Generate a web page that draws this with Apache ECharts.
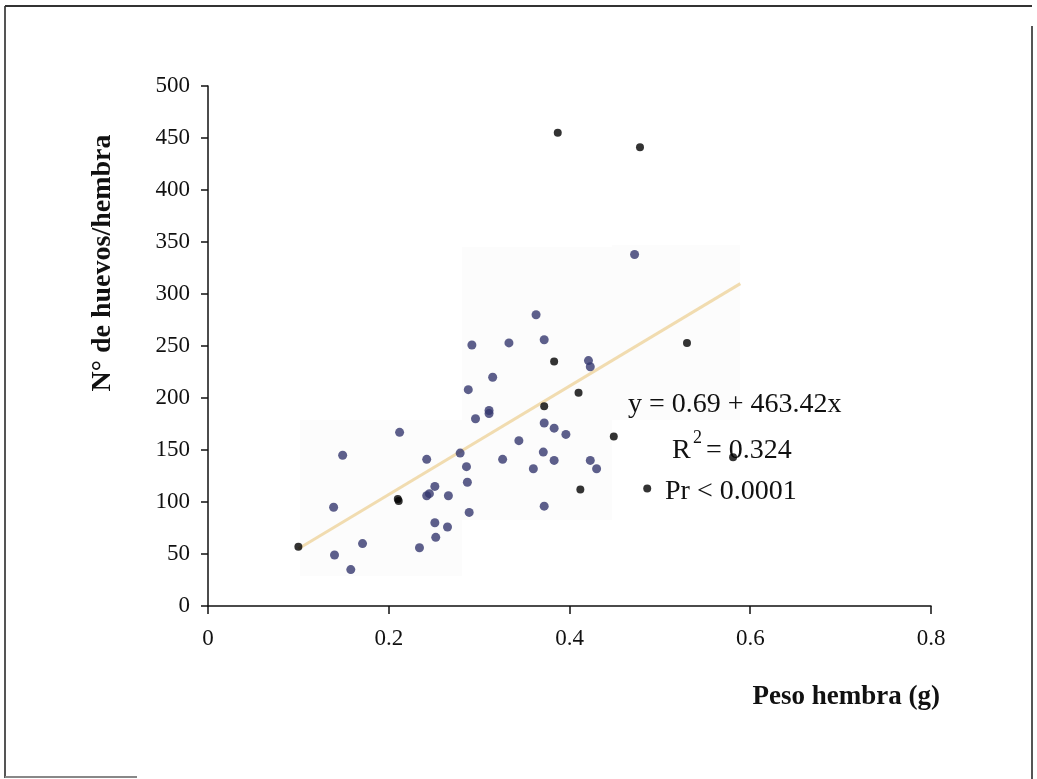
<!DOCTYPE html>
<html>
<head>
<meta charset="utf-8">
<script src="https://cdn.jsdelivr.net/npm/echarts@6/dist/echarts.min.js"></script>
<style>
  html, body { margin: 0; padding: 0; background: #fff; }
  #chart { width: 1037px; height: 779px; }
</style>
</head>
<body>
<div id="chart"></div>
<script>
// peso hembra (g) vs n° de huevos por hembra
const pesoAzul = [0.140, 0.139, 0.149, 0.158, 0.171, 0.212, 0.234, 0.242, 0.242, 0.245,
    0.251, 0.251, 0.252, 0.266, 0.265, 0.279, 0.286, 0.287, 0.289, 0.288,
    0.292, 0.296, 0.311, 0.311, 0.315, 0.326, 0.333, 0.344, 0.360, 0.363,
    0.371, 0.372, 0.372, 0.372, 0.383, 0.383, 0.396, 0.421, 0.423, 0.423,
    0.430, 0.472];
const huevosAzul = [49, 95, 145, 35, 60, 167, 56, 141, 106, 108,
    115, 80, 66, 106, 76, 147, 134, 119, 90, 208,
    251, 180, 188, 185, 220, 141, 253, 159, 132, 280,
    148, 176, 256, 96, 171, 140, 165, 236, 230, 140,
    132, 338];

const pesoNegro = [0.100, 0.210, 0.211, 0.372, 0.383, 0.387, 0.410, 0.412, 0.449, 0.478, 0.486, 0.530, 0.581];
const huevosNegro = [57, 103, 101, 192, 235, 455, 205, 112, 163, 441, 113, 253, 143];

// recta de regresion tal como aparece dibujada
const rectaX = [0.10, 0.589];
const rectaY = [55, 310];

const xTicks = ['0', '0.2', '0.4', '0.6', '0.8'];

const toPairs = (xs, ys) => xs.map((x, i) => [x, ys[i]]);

const serif = '"Liberation Serif", "DejaVu Serif", serif';

const chart = echarts.init(document.getElementById('chart'));

const option = {
    backgroundColor: '#fff',
    animation: false,
    grid: { left: 208, right: 106, top: 86, bottom: 173 },
    xAxis: {
        type: 'value',
        min: 0,
        max: 0.8,
        interval: 0.2,
        axisLine: { lineStyle: { color: '#111', width: 1.5 } },
        axisTick: { show: true, length: 8, lineStyle: { color: '#111', width: 1.5 } },
        axisLabel: {
            color: '#111', fontFamily: serif, fontSize: 23, margin: 21,
            formatter: (v) => xTicks[Math.round(v / 0.2)]
        },
        splitLine: { show: false }
    },
    yAxis: {
        type: 'value',
        min: 0,
        max: 500,
        interval: 50,
        axisLine: { show: true, lineStyle: { color: '#111', width: 1.5 } },
        axisTick: { show: true, length: 7, lineStyle: { color: '#111', width: 1.5 } },
        axisLabel: { color: '#111', fontFamily: serif, fontSize: 23, margin: 18 },
        splitLine: { show: false }
    },
    series: [
        {
            type: 'line',
            data: toPairs(rectaX, rectaY),
            symbol: 'none',
            lineStyle: { color: '#f1dcb0', width: 3 },
            z: 1
        },
        {
            type: 'scatter',
            data: toPairs(pesoAzul, huevosAzul),
            symbolSize: 9,
            itemStyle: { color: '#34376e' },
            z: 3
        },
        {
            type: 'scatter',
            data: toPairs(pesoNegro, huevosNegro),
            symbolSize: 8,
            itemStyle: { color: '#000' },
            z: 4
        }
    ],
    graphic: [
        // marco
        { type: 'line', shape: { x1: 5, y1: 6, x2: 5, y2: 778 }, style: { stroke: '#555', lineWidth: 2 } },
        { type: 'line', shape: { x1: 5, y1: 6, x2: 1032, y2: 6 }, style: { stroke: '#333', lineWidth: 2 } },
        { type: 'line', shape: { x1: 1032, y1: 26, x2: 1032, y2: 779 }, style: { stroke: '#555', lineWidth: 2 } },
        { type: 'line', shape: { x1: 5, y1: 777, x2: 137, y2: 777 }, style: { stroke: '#888', lineWidth: 2 } },
        // sombras tenues del escaneo
        { type: 'rect', z: -1, shape: { x: 300, y: 420, width: 162, height: 156 }, style: { fill: '#fcfcfc' } },
        { type: 'rect', z: -1, shape: { x: 462, y: 247, width: 150, height: 273 }, style: { fill: '#fcfcfc' } },
        { type: 'rect', z: -1, shape: { x: 612, y: 245, width: 128, height: 175 }, style: { fill: '#fcfcfc' } },
        // titulos de ejes
        {
            type: 'text', x: 103, y: 263, rotation: Math.PI / 2,
            style: {
                text: 'N° de huevos/hembra', font: 'bold 28px ' + serif,
                fill: '#111', align: 'center', verticalAlign: 'middle'
            }
        },
        {
            type: 'text', x: 940, y: 697,
            style: {
                text: 'Peso hembra (g)', font: 'bold 27px ' + serif,
                fill: '#111', align: 'right', verticalAlign: 'middle'
            }
        },
        // ecuacion
        {
            type: 'text', x: 628, y: 405,
            style: { text: 'y = 0.69 + 463.42x', font: '28px ' + serif, fill: '#111', verticalAlign: 'middle' }
        },
        {
            type: 'text', x: 672, y: 451,
            style: { text: 'R', font: '28px ' + serif, fill: '#111', verticalAlign: 'middle' }
        },
        {
            type: 'text', x: 693, y: 438,
            style: { text: '2', font: '18px ' + serif, fill: '#111', verticalAlign: 'middle' }
        },
        {
            type: 'text', x: 706, y: 451,
            style: { text: '= 0.324', font: '28px ' + serif, fill: '#111', verticalAlign: 'middle' }
        },
        {
            type: 'text', x: 665, y: 492,
            style: { text: 'Pr < 0.0001', font: '28px ' + serif, fill: '#111', verticalAlign: 'middle' }
        }
    ]
};

chart.setOption(option);
</script>
</body>
</html>
